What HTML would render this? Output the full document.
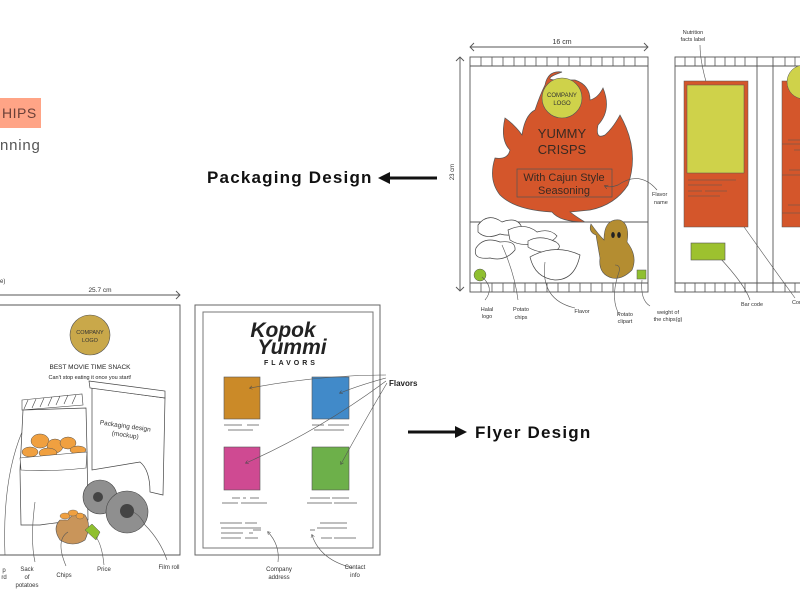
<!DOCTYPE html>
<html><head><meta charset="utf-8"><style>
html,body{margin:0;padding:0;background:#fff;}
svg{display:block;font-family:"Liberation Sans",sans-serif;}
</style></head><body>
<svg width="800" height="600" viewBox="0 0 800 600" xmlns="http://www.w3.org/2000/svg">
<defs>
<marker id="ah" markerWidth="8" markerHeight="8" refX="4" refY="4" orient="auto"><path d="M0,1 L5,4 L0,7" fill="none" stroke="#444" stroke-width="0.8"/></marker>
</defs>
<rect x="0" y="98" width="41" height="30" fill="#ffa486"/>
<text x="2" y="118" font-size="14" fill="#6b4038" letter-spacing="0.5">HIPS</text>
<text x="0" y="150" font-size="15" fill="#555" letter-spacing="0.8">nning</text>

<text x="207" y="183" font-size="17" font-weight="bold" fill="#111" letter-spacing="1.2">Packaging Design</text>
<line x1="437" y1="178" x2="386" y2="178" stroke="#111" stroke-width="3"/>
<path d="M378,178 L390,172 L390,184 Z" fill="#111"/>

<text x="475" y="438" font-size="17" font-weight="bold" fill="#111" letter-spacing="1.2">Flyer Design</text>
<line x1="408" y1="432" x2="458" y2="432" stroke="#111" stroke-width="3"/>
<path d="M467,432 L455,426 L455,438 Z" fill="#111"/>

<g stroke="#555" stroke-width="0.9" fill="none">
<line x1="470" y1="47" x2="648" y2="47"/>
<path d="M474,43 L470,47 L474,51 M644,43 L648,47 L644,51"/>
<line x1="460" y1="57" x2="460" y2="291"/>
<path d="M456,61 L460,57 L464,61 M456,287 L460,291 L464,287"/>
<rect x="470" y="57" width="178" height="235"/>
<line x1="470" y1="66" x2="648" y2="66"/>
<line x1="470" y1="283" x2="648" y2="283"/>
<line x1="470" y1="222" x2="648" y2="222"/>
</g>
<g stroke="#555" stroke-width="0.8">
<path d="M481,57v9M492,57v9M503,57v9M514,57v9M525,57v9M536,57v9M547,57v9M558,57v9M569,57v9M580,57v9M591,57v9M602,57v9M613,57v9M624,57v9M635,57v9"/>
<path d="M481,283v9M492,283v9M503,283v9M514,283v9M525,283v9M536,283v9M547,283v9M558,283v9M569,283v9M580,283v9M591,283v9M602,283v9M613,283v9M624,283v9M635,283v9"/>
</g>
<text x="562" y="44" font-size="7" fill="#333" text-anchor="middle">16 cm</text>
<text x="454" y="172" font-size="6" fill="#333" text-anchor="middle" transform="rotate(-90 454 172)">23 cm</text>
<path d="M545,85 Q548,70 562,72 Q540,80 558,80 L575,80 Q590,85 590,100 Q598,98 603,88 Q612,110 598,125 Q595,140 605,135 Q613,128 620,115 Q640,150 628,185 Q615,205 590,210 L570,212 Q578,218 585,222 Q560,222 552,212 Q515,210 500,195 Q488,180 495,158 Q508,160 510,150 Q500,140 505,118 Q515,125 522,135 Q525,115 535,110 Q540,95 545,85 Z" fill="#d4562b" stroke="#555" stroke-width="0.7"/>
<circle cx="562" cy="98" r="20" fill="#cfd24a" stroke="#555" stroke-width="0.6"/>
<text x="562" y="97" font-size="6" fill="#333" text-anchor="middle">COMPANY</text>
<text x="562" y="105" font-size="6" fill="#333" text-anchor="middle">LOGO</text>
<text x="562" y="138" font-size="13" fill="#3a2a22" text-anchor="middle">YUMMY</text>
<text x="562" y="154" font-size="13" fill="#3a2a22" text-anchor="middle">CRISPS</text>
<rect x="517" y="169" width="95" height="28" fill="none" stroke="#555" stroke-width="0.7"/>
<text x="564" y="181" font-size="11" fill="#3a2a22" text-anchor="middle">With Cajun Style</text>
<text x="564" y="194" font-size="11" fill="#3a2a22" text-anchor="middle">Seasoning</text>
<path d="M657,190 Q640,170 618,185 Q610,188 605,186" fill="none" stroke="#555" stroke-width="0.7" marker-end="url(#ah)"/>
<text x="652" y="196" font-size="5.5" fill="#333">Flavor</text>
<text x="654" y="204" font-size="5.5" fill="#333">name</text>
<g fill="#fff" stroke="#444" stroke-width="0.7">
<path d="M478,225 Q488,212 502,222 Q518,216 522,228 Q515,238 500,234 Q486,240 478,232 Z"/>
<path d="M508,230 Q525,222 537,232 Q550,228 557,236 Q552,244 537,243 Q520,247 510,240 Z"/>
<path d="M476,248 Q484,236 500,242 Q516,240 515,250 Q505,262 490,258 Q472,260 476,248 Z"/>
<path d="M528,241 Q540,234 556,242 Q565,248 550,253 Q535,252 528,247 Z"/>
<path d="M530,257 Q555,243 580,255 Q575,280 555,280 Q535,278 530,257 Z"/>
</g>
<path d="M596,235 Q588,232 591,224 Q598,234 604,240 Q604,218 620,220 Q630,224 627,242 Q638,256 632,270 Q622,280 612,278 Q598,274 600,258 Z" fill="#b48d31" stroke="#555" stroke-width="0.6"/>
<ellipse cx="613" cy="235" rx="1.8" ry="3" fill="#222"/><ellipse cx="619" cy="235" rx="1.8" ry="3" fill="#222"/>
<circle cx="480" cy="275" r="6" fill="#8fbf2f" stroke="#555" stroke-width="0.5"/>
<rect x="637" y="270" width="9" height="9" fill="#8fbf2f" stroke="#555" stroke-width="0.5"/>
<g fill="none" stroke="#555" stroke-width="0.6">
<path d="M485,300 Q495,288 482,277"/>
<path d="M518,300 Q515,275 502,245"/>
<path d="M575,308 Q540,300 545,262"/>
<path d="M620,316 Q610,300 618,275 Q622,265 615,265"/>
<path d="M650,306 Q640,300 642,280"/>
<path d="M750,300 Q745,285 720,258"/>
<path d="M700,45 Q700,65 711,98"/>
<path d="M795,298 Q760,250 723,197"/>
</g>
<g font-size="5.5" fill="#333" text-anchor="middle">
<text x="487" y="311">Halal</text><text x="487" y="318">logo</text>
<text x="521" y="311">Potato</text><text x="521" y="319">chips</text>
<text x="582" y="313">Flavor</text>
<text x="625" y="316">Potato</text><text x="625" y="323">clipart</text>
<text x="668" y="314">weight of</text><text x="668" y="321">the chips(g)</text>
<text x="752" y="306">Bar code</text>
<text x="693" y="34">Nutrition</text><text x="693" y="41">facts label</text>
<text x="797" y="304">Con</text>
</g>
<g stroke="#555" stroke-width="0.9" fill="none">
<rect x="675" y="57" width="130" height="235"/>
<line x1="675" y1="66" x2="800" y2="66"/><line x1="675" y1="283" x2="800" y2="283"/>
<line x1="757" y1="57" x2="757" y2="292"/><line x1="773" y1="57" x2="773" y2="292"/>
</g>
<g stroke="#555" stroke-width="0.8">
<path d="M685,57v9M695,57v9M705,57v9M715,57v9M725,57v9M735,57v9M745,57v9M785,57v9M795,57v9"/>
<path d="M685,283v9M695,283v9M705,283v9M715,283v9M725,283v9M735,283v9M745,283v9M785,283v9M795,283v9"/>
</g>
<rect x="684" y="81" width="64" height="146" fill="#d4562b" stroke="#555" stroke-width="0.5"/>
<rect x="687" y="85" width="57" height="88" fill="#cfd24a" stroke="#555" stroke-width="0.5"/>
<g stroke="#555" stroke-width="0.6"><path d="M688,180h48M688,185h34M688,191h14M705,191h22M688,196h32"/></g>
<rect x="691" y="243" width="34" height="17" fill="#9dc12f" stroke="#555" stroke-width="0.6"/>
<rect x="782" y="81" width="25" height="146" fill="#d4562b" stroke="#555" stroke-width="0.5"/>
<circle cx="804" cy="82" r="17" fill="#cfd24a" stroke="#555" stroke-width="0.5"/>
<g stroke="#555" stroke-width="0.6"><path d="M788,140h12M782,144h18M794,150h6M789,170h11M782,175h18M788,205h12M782,213h18"/></g>

<g fill="none" stroke="#555" stroke-width="0.9">
<line x1="0" y1="295" x2="180" y2="295"/><path d="M176,291 L180,295 L176,299"/>
<path d="M0,305 H180 V555 H0"/>
</g>
<text x="0" y="283" font-size="6" fill="#333">e)</text>
<text x="100" y="292" font-size="6.5" fill="#333" text-anchor="middle">25.7 cm</text>
<circle cx="90" cy="335" r="20" fill="#c9a84a" stroke="#555" stroke-width="0.6"/>
<text x="90" y="334" font-size="5.5" fill="#333" text-anchor="middle">COMPANY</text>
<text x="90" y="342" font-size="5.5" fill="#333" text-anchor="middle">LOGO</text>
<text x="90" y="369" font-size="6.5" fill="#222" text-anchor="middle">BEST MOVIE TIME SNACK</text>
<text x="90" y="379" font-size="5.5" fill="#222" text-anchor="middle">Can't stop eating it once you start!</text>
<path d="M92,388 L165,398 L163,495 L150,492 Q150,470 140,462 L92,470 Z" fill="#fff" stroke="#444" stroke-width="0.7"/>
<path d="M89,381 L165,391 L165,398 L90,388 Z" fill="#fff" stroke="#444" stroke-width="0.7"/>
<text x="125" y="428" font-size="6.5" fill="#333" text-anchor="middle" transform="rotate(8 125 428)">Packaging design</text>
<text x="125" y="437" font-size="6.5" fill="#333" text-anchor="middle" transform="rotate(8 125 437)">(mockup)</text>
<path d="M22,400 L82,394 L83,405 L22,410 Z M28,400l-4,9 M36,399l-4,9 M44,398l-4,9 M52,397l-4,9 M60,396l-4,9 M68,395l-4,9 M76,395l-4,9" fill="#fff" stroke="#444" stroke-width="0.6"/>
<path d="M23,410 L86,408 L87,450 L88,520 Q60,522 40,525 L21,525 L20,470 Z" fill="#fff" stroke="#444" stroke-width="0.7"/>
<g fill="#f0a040" stroke="#555" stroke-width="0.5">
<ellipse cx="40" cy="441" rx="9" ry="7"/><ellipse cx="55" cy="446" rx="8" ry="7"/><ellipse cx="68" cy="443" rx="8" ry="6"/><ellipse cx="30" cy="452" rx="8" ry="5"/><ellipse cx="48" cy="453" rx="9" ry="5"/><ellipse cx="78" cy="450" rx="8" ry="4"/>
</g>
<path d="M20,458 Q50,455 87,452 L86,468 Q50,472 21,470 Z" fill="#fff" stroke="#444" stroke-width="0.6"/>
<circle cx="100" cy="497" r="17" fill="#8f8f8f" stroke="#444" stroke-width="0.6"/>
<circle cx="98" cy="497" r="5" fill="#444"/>
<circle cx="127" cy="512" r="21" fill="#8f8f8f" stroke="#444" stroke-width="0.6"/>
<circle cx="127" cy="511" r="7" fill="#444"/>
<path d="M68,520 Q75,510 85,515 Q92,525 85,540 Q73,548 60,540 Q52,528 60,520 Z" fill="#c9955a" stroke="#555" stroke-width="0.6"/>
<g fill="#f0a040" stroke="#555" stroke-width="0.4"><ellipse cx="65" cy="516" rx="5" ry="3"/><ellipse cx="73" cy="513" rx="5" ry="3"/><ellipse cx="80" cy="516" rx="4" ry="3"/></g>
<path d="M85,530 L92,524 L100,532 L96,540 Z" fill="#8fbf2f" stroke="#555" stroke-width="0.5"/>
<g fill="none" stroke="#555" stroke-width="0.6">
<path d="M5,555 Q2,480 22,432"/>
<path d="M35,562 Q30,540 35,502"/>
<path d="M66,566 Q55,540 68,532"/>
<path d="M104,565 Q102,545 96,537"/>
<path d="M167,560 Q160,540 145,525 Q140,515 133,512"/>
</g>
<g font-size="6" fill="#333" text-anchor="middle">
<text x="4" y="572">p</text><text x="4" y="579">rd</text>
<text x="27" y="571">Sack</text><text x="27" y="579">of</text><text x="27" y="587">potatoes</text>
<text x="64" y="577">Chips</text>
<text x="104" y="571">Price</text>
<text x="169" y="569">Film roll</text>
</g>

<rect x="195" y="305" width="185" height="250" fill="none" stroke="#666" stroke-width="1"/>
<rect x="203" y="312" width="170" height="236" fill="none" stroke="#777" stroke-width="1"/>
<text x="283" y="337" font-size="21" font-weight="bold" font-style="italic" fill="#222" text-anchor="middle">Kopok</text>
<text x="292" y="354" font-size="21" font-weight="bold" font-style="italic" fill="#222" text-anchor="middle">Yummi</text>
<text x="291" y="365" font-size="7" font-weight="bold" fill="#222" text-anchor="middle" letter-spacing="3">FLAVORS</text>
<rect x="224" y="377" width="36" height="42" fill="#cb8a28" stroke="#555" stroke-width="0.6"/>
<rect x="312" y="377" width="37" height="42" fill="#418ac9" stroke="#555" stroke-width="0.6"/>
<rect x="224" y="447" width="36" height="43" fill="#cf4a92" stroke="#555" stroke-width="0.6"/>
<rect x="312" y="447" width="37" height="43" fill="#6db04a" stroke="#555" stroke-width="0.6"/>
<g stroke="#555" stroke-width="0.7">
<path d="M224,425h18M247,425h12M228,430h25M312,425h12M328,425h21M314,430h30M232,498h8M243,498h3M250,498h9M222,503h16M241,503h26M310,498h20M332,498h17M307,503h25M334,503h23M220,523h22M245,523h12M221,528h40M221,533h22M249,533h4M253,530h8M221,538h20M245,538h13M320,523h27M317,528h30M310,530h5M321,538h11M334,538h22"/>
</g>
<g fill="none" stroke="#555" stroke-width="0.6">
<path d="M386,375 Q320,375 250,388" marker-end="url(#ah)"/>
<path d="M386,378 Q360,385 340,393" marker-end="url(#ah)"/>
<path d="M386,381 Q320,430 246,463" marker-end="url(#ah)"/>
<path d="M387,383 Q365,420 341,464" marker-end="url(#ah)"/>
<path d="M278,562 Q280,545 268,532" marker-end="url(#ah)"/>
<path d="M353,568 Q320,560 312,535" marker-end="url(#ah)"/>
</g>
<text x="389" y="386" font-size="8" font-weight="bold" fill="#222">Flavors</text>
<g font-size="6" fill="#333" text-anchor="middle">
<text x="279" y="571">Company</text><text x="279" y="579">address</text>
<text x="355" y="569">Contact</text><text x="355" y="577">info</text>
</g>
</svg>
</body></html>
